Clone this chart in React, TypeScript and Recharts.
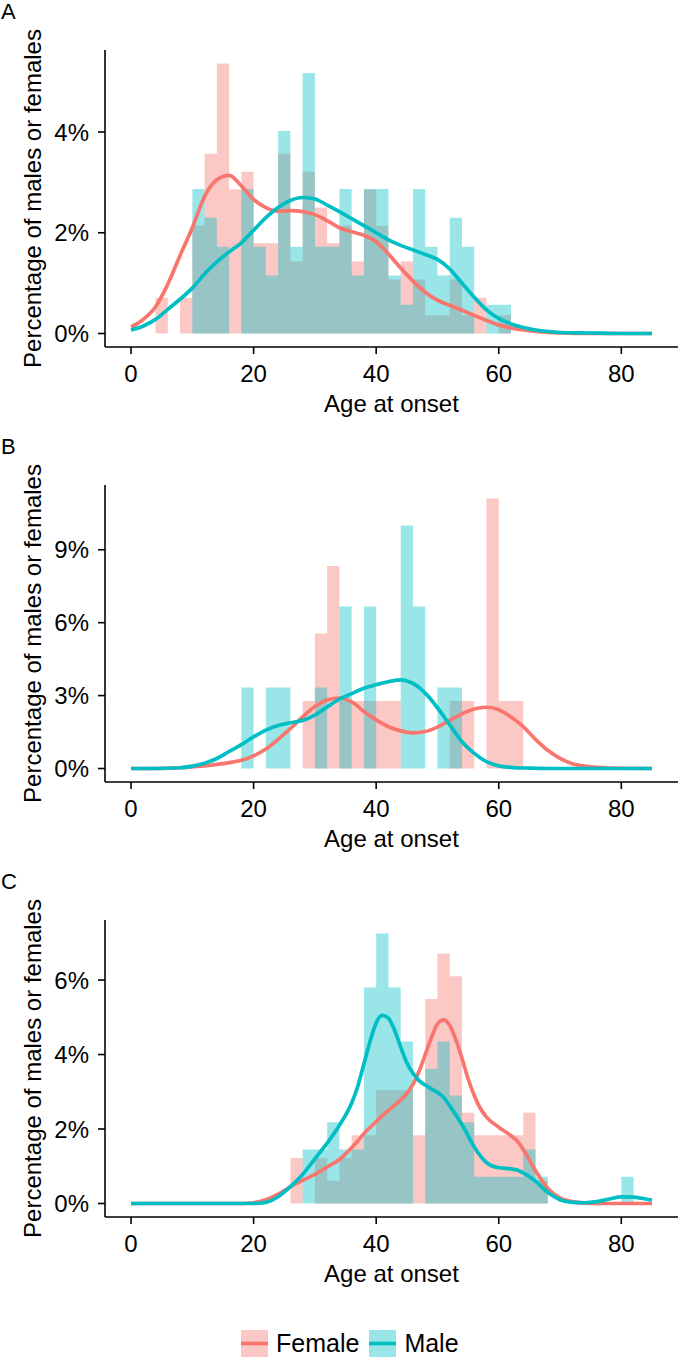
// Age at onset histograms + density curves by sex, three stacked panels
import React from 'react';
import { ComposedChart, Area, Line, XAxis, YAxis, Label } from 'recharts';

const FONT = '"Liberation Sans", Arial, Helvetica, sans-serif';
const FEMALE_COLOR = '#F8766D';
const MALE_COLOR = '#00BFC4';
const BIN_WIDTH = 2;

// shared x axis
const ageTicks = [0, 20, 40, 60, 80];
const ageDomain: [number, number] = [-4.25, 89.25];

// ---- Panel A ----
const binsA = [4, 6, 8, 10, 12, 14, 16, 18, 20, 22, 24, 26, 28, 30, 32, 34, 36, 38, 40, 42, 44, 46, 48, 50, 52, 54, 56, 58, 60];
const femaleHistA = [0.71, 0, 0.71, 2.14, 3.57, 5.36, 2.86, 3.21, 1.79, 1.79, 3.57, 1.43, 3.21, 2.5, 1.79, 2.14, 1.43, 2.86, 2.14, 1.07, 1.43, 1.07, 0.36, 0.36, 1.07, 0.36, 0.71, 0, 0.36];
const maleHistA = [0, 0, 0, 2.87, 2.3, 1.72, 0, 2.87, 1.72, 1.15, 4.02, 1.72, 5.17, 1.72, 1.72, 2.87, 1.15, 2.87, 2.87, 1.15, 0.57, 2.87, 1.72, 1.15, 2.3, 1.72, 0, 0.57, 0.57];
const densAgesA = [0, 2, 4, 6, 8, 10, 12, 14, 16, 18, 20, 22, 24, 26, 28, 30, 32, 34, 36, 38, 40, 42, 44, 46, 48, 50, 52, 54, 56, 58, 60, 62, 64, 66, 68, 70, 75, 80, 85];
const femaleDensA = [0.13, 0.28, 0.53, 0.98, 1.55, 2.1, 2.72, 3.05, 3.14, 2.93, 2.66, 2.5, 2.43, 2.44, 2.42, 2.36, 2.24, 2.1, 2.02, 1.95, 1.82, 1.58, 1.3, 1.04, 0.82, 0.66, 0.56, 0.46, 0.36, 0.26, 0.17, 0.11, 0.07, 0.04, 0.02, 0.01, 0, 0, 0];
const maleDensA = [0.07, 0.15, 0.28, 0.48, 0.68, 0.9, 1.18, 1.42, 1.62, 1.8, 2.05, 2.3, 2.5, 2.64, 2.7, 2.67, 2.55, 2.42, 2.28, 2.14, 2.0, 1.86, 1.75, 1.66, 1.57, 1.47, 1.28, 1.0, 0.72, 0.47, 0.3, 0.19, 0.12, 0.07, 0.04, 0.02, 0.01, 0, 0];
const yTicksA = [0, 2, 4];

// ---- Panel B ----
const binsB = [18, 20, 22, 24, 26, 28, 30, 32, 34, 36, 38, 40, 42, 44, 46, 48, 50, 52, 54, 56, 58, 60, 62];
const femaleHistB = [0, 0, 0, 0, 0, 2.78, 5.56, 8.33, 2.78, 2.78, 2.78, 2.78, 2.78, 0, 0, 0, 0, 2.78, 2.78, 0, 11.11, 2.78, 2.78];
const maleHistB = [3.33, 0, 3.33, 3.33, 0, 0, 3.33, 0, 6.67, 0, 6.67, 0, 0, 10, 6.67, 0, 3.33, 3.33, 0, 0, 0, 0, 0];
const densAgesB = [0, 4, 8, 10, 12, 14, 16, 18, 20, 22, 24, 26, 28, 30, 32, 34, 36, 38, 40, 42, 44, 46, 48, 50, 52, 54, 56, 58, 60, 62, 64, 66, 68, 70, 72, 75, 80, 85];
const femaleDensB = [0, 0, 0.03, 0.07, 0.11, 0.17, 0.24, 0.34, 0.52, 0.8, 1.2, 1.64, 2.12, 2.55, 2.82, 2.9, 2.74, 2.35, 2.0, 1.72, 1.55, 1.47, 1.52, 1.7, 1.98, 2.25, 2.45, 2.52, 2.42, 2.12, 1.72, 1.2, 0.75, 0.42, 0.2, 0.07, 0.01, 0];
const maleDensB = [0, 0, 0.03, 0.1, 0.22, 0.41, 0.7, 0.98, 1.3, 1.58, 1.77, 1.88, 1.98, 2.2, 2.53, 2.85, 3.08, 3.3, 3.45, 3.57, 3.65, 3.5, 3.1, 2.5, 1.8, 1.1, 0.62, 0.28, 0.11, 0.05, 0.02, 0.01, 0, 0, 0, 0, 0, 0];
const yTicksB = [0, 3, 6, 9];

// ---- Panel C ----
const binsC = [26, 28, 30, 32, 34, 36, 38, 40, 42, 44, 46, 48, 50, 52, 54, 56, 58, 60, 62, 64, 66, 68, 70, 72, 74, 76, 78, 80];
const femaleHistC = [1.22, 0, 1.22, 0.61, 1.22, 1.83, 1.83, 3.05, 3.05, 3.05, 1.83, 5.49, 6.71, 6.1, 2.44, 1.83, 1.83, 1.83, 1.83, 2.44, 0.61, 0, 0, 0, 0, 0, 0, 0];
const maleHistC = [0, 1.45, 1.45, 2.18, 1.45, 1.45, 5.8, 7.25, 5.8, 4.35, 0, 3.62, 4.35, 2.9, 2.18, 0.72, 0.72, 0.72, 0.72, 1.45, 0.72, 0, 0, 0, 0, 0, 0, 0.72];
const densAgesC = [0, 10, 18, 20, 22, 24, 26, 28, 30, 32, 34, 36, 37, 38, 39, 40, 41, 42, 43, 44, 45, 46, 47, 48, 49, 50, 51, 52, 53, 54, 55, 56, 57, 58, 60, 62, 63, 64, 66, 68, 70, 72, 74, 76, 78, 80, 82, 84, 85];
const femaleDensC = [0, 0, 0, 0.02, 0.1, 0.25, 0.45, 0.62, 0.78, 0.98, 1.18, 1.5, 1.68, 1.88, 2.04, 2.2, 2.36, 2.5, 2.64, 2.78, 2.95, 3.2, 3.55, 4.0, 4.45, 4.82, 4.93, 4.78, 4.4, 3.9, 3.35, 2.9, 2.55, 2.32, 2.05, 1.82, 1.68, 1.45, 0.88, 0.4, 0.15, 0.05, 0.01, 0, 0, 0, 0, 0, 0];
const maleDensC = [0, 0, 0, 0, 0.03, 0.18, 0.45, 0.78, 1.2, 1.62, 2.1, 2.7, 3.15, 3.75, 4.35, 4.85, 5.05, 4.98, 4.65, 4.2, 3.78, 3.5, 3.3, 3.18, 3.08, 2.98, 2.85, 2.62, 2.38, 2.12, 1.82, 1.52, 1.28, 1.1, 0.96, 0.93, 0.9, 0.82, 0.6, 0.3, 0.1, 0.03, 0.02, 0.05, 0.12, 0.18, 0.17, 0.12, 0.09];
const yTicksC = [0, 2, 4, 6];

interface Point {
  x: number;
  y: number;
}

// histogram outline for a stepAfter area: one point per bin start, plus a closing point
const toSteps = (bins: number[], values: number[]): Point[] => [
  ...bins.map((x, i) => ({ x, y: values[i] })),
  { x: bins[bins.length - 1] + BIN_WIDTH, y: 0 },
];

const toPoints = (xs: number[], ys: number[]): Point[] => xs.map((x, i) => ({ x, y: ys[i] }));

// ggplot-like 5% expansion on the y range
const expandedDomain = (values: number[][]): [number, number] => {
  const max = Math.max(...values.flat());
  return [-0.05 * max, max * 1.05];
};

interface PanelProps {
  letter: string;
  top: number;
  bins: number[];
  femaleHist: number[];
  maleHist: number[];
  densAges: number[];
  femaleDens: number[];
  maleDens: number[];
  yTicks: number[];
}

const tickStyle = { fontSize: 24, fill: '#000', fontFamily: FONT };
const axisLine = { stroke: '#000', strokeWidth: 1.6 };

const Panel = ({ letter, top, bins, femaleHist, maleHist, densAges, femaleDens, maleDens, yTicks }: PanelProps) => {
  const yDomain = expandedDomain([femaleHist, maleHist, femaleDens, maleDens]);
  return (
    <div style={{ position: 'absolute', left: 0, top, width: 678, height: 435 }}>
      <div style={{ position: 'absolute', left: 1, top: 1, fontFamily: FONT, fontSize: 22, lineHeight: '22px' }}>
        {letter}
      </div>
      <ComposedChart width={678} height={435} margin={{ top: 50, right: 0, bottom: 28, left: 0 }}>
        <XAxis
          type='number'
          dataKey='x'
          domain={ageDomain}
          ticks={ageTicks}
          allowDataOverflow
          height={60}
          tickSize={7}
          tickMargin={11}
          axisLine={axisLine}
          tickLine={axisLine}
          tick={tickStyle}
        >
          <Label
            content={({ viewBox }: any) => (
              <text
                x={viewBox.x + viewBox.width / 2}
                y={viewBox.y + 65}
                textAnchor='middle'
                fontSize={24}
                fontFamily={FONT}
                fill='#000'
              >
                Age at onset
              </text>
            )}
          />
        </XAxis>
        <YAxis
          type='number'
          dataKey='y'
          domain={yDomain}
          ticks={yTicks}
          allowDataOverflow
          width={105}
          tickSize={7}
          tickMargin={9}
          axisLine={axisLine}
          tickLine={axisLine}
          tick={tickStyle}
          tickFormatter={(v: number) => `${v}%`}
        >
          <Label
            content={({ viewBox }: any) => {
              const cx = viewBox.x + 41;
              const cy = viewBox.y + viewBox.height / 2;
              return (
                <text
                  x={cx}
                  y={cy}
                  transform={`rotate(-90, ${cx}, ${cy})`}
                  textAnchor='middle'
                  fontSize={24}
                  fontFamily={FONT}
                  fill='#000'
                >
                  Percentage of males or females
                </text>
              );
            }}
          />
        </YAxis>

        {/* histograms, female underneath */}
        <Area
          data={toSteps(bins, femaleHist)}
          dataKey='y'
          type='stepAfter'
          baseValue={0}
          stroke='none'
          fill={FEMALE_COLOR}
          fillOpacity={0.4}
          isAnimationActive={false}
        />
        <Area
          data={toSteps(bins, maleHist)}
          dataKey='y'
          type='stepAfter'
          baseValue={0}
          stroke='none'
          fill={MALE_COLOR}
          fillOpacity={0.4}
          isAnimationActive={false}
        />

        {/* density curves */}
        <Line
          data={toPoints(densAges, femaleDens)}
          dataKey='y'
          type='monotone'
          stroke={FEMALE_COLOR}
          strokeWidth={3.7}
          dot={false}
          activeDot={false}
          isAnimationActive={false}
        />
        <Line
          data={toPoints(densAges, maleDens)}
          dataKey='y'
          type='monotone'
          stroke={MALE_COLOR}
          strokeWidth={3.7}
          dot={false}
          activeDot={false}
          isAnimationActive={false}
        />
      </ComposedChart>
    </div>
  );
};

const LegendKey = ({ color }: { color: string }) => (
  <svg width={27} height={27} style={{ display: 'block' }}>
    <rect x={0} y={0} width={27} height={27} fill={color} fillOpacity={0.4} />
    <line x1={0} x2={27} y1={13.5} y2={13.5} stroke={color} strokeWidth={3.7} />
  </svg>
);

const legendItems = [
  { name: 'Female', color: FEMALE_COLOR },
  { name: 'Male', color: MALE_COLOR },
];

export default function App() {
  return (
    <div style={{ position: 'absolute', left: 0, top: 0, width: 678, height: 1358, background: '#fff', overflow: 'hidden' }}>
      <Panel
        letter='A'
        top={0}
        bins={binsA}
        femaleHist={femaleHistA}
        maleHist={maleHistA}
        densAges={densAgesA}
        femaleDens={femaleDensA}
        maleDens={maleDensA}
        yTicks={yTicksA}
      />
      <Panel
        letter='B'
        top={435}
        bins={binsB}
        femaleHist={femaleHistB}
        maleHist={maleHistB}
        densAges={densAgesB}
        femaleDens={femaleDensB}
        maleDens={maleDensB}
        yTicks={yTicksB}
      />
      <Panel
        letter='C'
        top={870}
        bins={binsC}
        femaleHist={femaleHistC}
        maleHist={maleHistC}
        densAges={densAgesC}
        femaleDens={femaleDensC}
        maleDens={maleDensC}
        yTicks={yTicksC}
      />

      {/* legend */}
      <div
        style={{
          position: 'absolute',
          left: 241,
          top: 1330,
          display: 'flex',
          alignItems: 'center',
          fontFamily: FONT,
          fontSize: 25,
          lineHeight: '27px',
        }}
      >
        {legendItems.map((item) => (
          <div key={item.name} style={{ display: 'flex', alignItems: 'center', marginRight: 10 }}>
            <LegendKey color={item.color} />
            <span style={{ marginLeft: 8 }}>{item.name}</span>
          </div>
        ))}
      </div>
    </div>
  );
}
